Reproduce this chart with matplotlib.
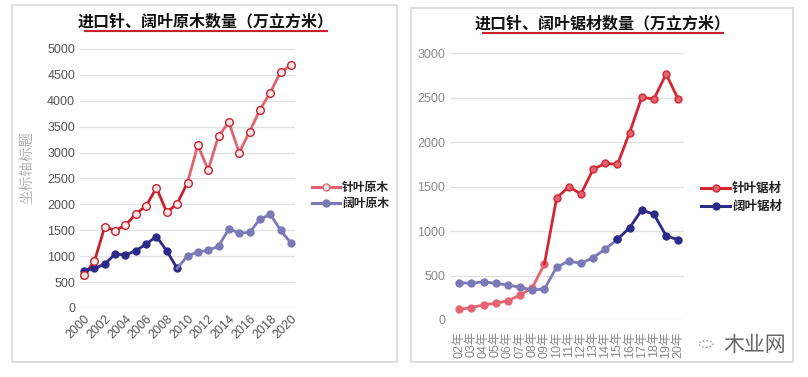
import numpy as np
import matplotlib.pyplot as plt
from matplotlib.patches import Rectangle, Circle

plt.rcParams['font.family'] = ['Liberation Sans', 'Noto Sans CJK SC', 'DejaVu Sans']

# left chart: logs (原木), 2000-2020
log_years = list(range(2000, 2021))
conifer_logs = [630, 905, 1570, 1495, 1600, 1815, 1975, 2320, 1845, 2015, 2420,
                3145, 2665, 3320, 3585, 3000, 3400, 3825, 4155, 4555, 4685]
broad_logs = [720, 765, 850, 1040, 1025, 1105, 1235, 1380, 1100, 765, 1005,
              1080, 1115, 1190, 1530, 1445, 1460, 1710, 1810, 1505, 1255]

# right chart: sawn wood (锯材), 02-20
saw_labels = ['%02d年' % y for y in range(2, 21)]
conifer_saw = [120, 140, 170, 188, 217, 280, 363, 630, 1370, 1500, 1417,
               1695, 1762, 1751, 2107, 2505, 2486, 2767, 2482]
broad_saw = [420, 413, 430, 413, 394, 368, 338, 349, 593, 664, 637,
             701, 799, 907, 1038, 1237, 1189, 948, 900]

W, H = 808, 377
fig = plt.figure(figsize=(W / 100, H / 100), dpi=100)
fig.patch.set_facecolor('white')

def fx(px):
    return px / W

def fy(py):
    return 1 - py / H

# panel frames
for x0, y0, x1, y1 in [(12, 5, 397, 362), (411, 8, 793, 362)]:
    fig.add_artist(Rectangle((fx(x0), fy(y1)), fx(x1 - x0), (y1 - y0) / H,
                             transform=fig.transFigure, fill=False,
                             edgecolor='#d8d8d8', linewidth=1.2))

def style_axes(ax, label_color):
    for s in ax.spines.values():
        s.set_visible(False)
    ax.grid(axis='y', color='#e2e2e2', linewidth=1)
    ax.set_axisbelow(True)
    ax.tick_params(length=0, colors=label_color, labelsize=9)

# ---- left chart ----
ax1 = fig.add_axes([fx(80), fy(308), fx(215), (308 - 49) / H])
style_axes(ax1, '#555555')
ax1.set_xlim(1999.6, 2020.4)
ax1.set_ylim(0, 5000)
ax1.set_yticks(range(0, 5001, 500))
ax1.set_xticks(range(2000, 2021, 2))
ax1.tick_params(axis='x', labelsize=9)
for lab in ax1.get_xticklabels():
    lab.set_rotation(45)
    lab.set_ha('right')
    lab.set_rotation_mode('anchor')

red_dark, red_light = '#c8202c', '#e0646f'
navy, lavender = '#2c2a88', '#7b79b6'
n1 = 11
ax1.plot(log_years[:n1], conifer_logs[:n1], color=red_dark, lw=2, zorder=3)
ax1.plot(log_years[n1 - 1:], conifer_logs[n1 - 1:], color=red_light, lw=2, zorder=3)
ax1.plot(log_years, conifer_logs, ls='none', marker='o', ms=5.5,
         mfc='#fde8e8', mec=red_dark, mew=1, zorder=4)
n2 = 10
ax1.plot(log_years[:n2], broad_logs[:n2], color=navy, lw=2, marker='o', ms=5, zorder=3)
ax1.plot(log_years[n2 - 1:], broad_logs[n2 - 1:], color=lavender, lw=2, zorder=3)
ax1.plot(log_years[n2:], broad_logs[n2:], ls='none', color=lavender, marker='o', ms=5, zorder=3)

fig.text(fx(27), fy(167), '坐标轴标题', rotation=90, ha='center', va='center',
         fontsize=10.5, color='#a8a8a8', family=['Noto Serif CJK SC', 'Noto Sans CJK SC'])

# ---- right chart ----
ax2 = fig.add_axes([fx(450), fy(320), fx(234), (320 - 53.3) / H])
style_axes(ax2, '#8a8a8a')
xs = np.arange(len(saw_labels))
ax2.set_xlim(-0.76, len(saw_labels) - 0.53)
ax2.set_ylim(0, 3000)
ax2.set_yticks(range(0, 3001, 500))
ax2.set_xticks(xs)
ax2.set_xticklabels(saw_labels, rotation=90, fontsize=9)
ax2.tick_params(axis='x', pad=8)

red_pink, red_main = '#e36574', '#d42632'
k1 = 8
ax2.plot(xs[:k1], conifer_saw[:k1], color=red_pink, lw=2, marker='o', ms=5, zorder=3)
ax2.plot(xs[k1 - 1:], conifer_saw[k1 - 1:], color=red_main, lw=2, zorder=3)
ax2.plot(xs[k1:], conifer_saw[k1:], ls='none', color=red_main, marker='o', ms=5,
         mfc=red_light, zorder=3)
k2 = 14
ax2.plot(xs[:k2], broad_saw[:k2], color=lavender, lw=2, marker='o', ms=5, zorder=3)
ax2.plot(xs[k2 - 1:], broad_saw[k2 - 1:], color=navy, lw=2, marker='o', ms=5, zorder=3)

# ---- titles with red underline ----
for cx, ty, x0, x1, ly, txt in [
        (206, 21, 85, 327, 31, '进口针、阔叶原木数量（万立方米）'),
        (603, 23, 483, 723, 33, '进口针、阔叶锯材数量（万立方米）')]:
    fig.text(fx(cx), fy(ty), txt, ha='center', va='center', fontsize=11.5,
             fontweight='bold', color='#111111', family=['Noto Sans CJK SC'])
    fig.add_artist(plt.Line2D([fx(x0), fx(x1)], [fy(ly), fy(ly)],
                              transform=fig.transFigure, color='#c8202c', lw=1.5))

# ---- legends ----
def legend_entry(x0, x1, y, color, mfc, text, size):
    fig.add_artist(plt.Line2D([fx(x0), fx(x1)], [fy(y), fy(y)], transform=fig.transFigure,
                              color=color, lw=2.2))
    fig.add_artist(plt.Line2D([fx((x0 + x1) / 2)], [fy(y)], transform=fig.transFigure,
                              color=color, marker='o', ms=5, mfc=mfc, mec=color))
    fig.text(fx(x1 + 2), fy(y), text, ha='left', va='center', fontsize=size,
             fontweight='bold', color='#222222', family=['Noto Sans CJK SC'])

legend_entry(312, 340, 187, red_light, '#fde8e8', '针叶原木', 8.5)
legend_entry(312, 340, 203, lavender, lavender, '阔叶原木', 8.5)
legend_entry(701, 730, 188, red_main, red_light, '针叶锯材', 9)
legend_entry(701, 730, 206, navy, navy, '阔叶锯材', 9)

# ---- watermark ----
fig.add_artist(Circle((fx(706), fy(344)), 7 / W, transform=fig.transFigure, fill=False,
                      edgecolor='#999999', lw=1, ls=':'))
fig.text(fx(723), fy(345), '木业网', ha='left', va='center', fontsize=15,
         color='#666666', family=['Noto Sans CJK SC'])

fig.savefig('out.png', dpi=100)
